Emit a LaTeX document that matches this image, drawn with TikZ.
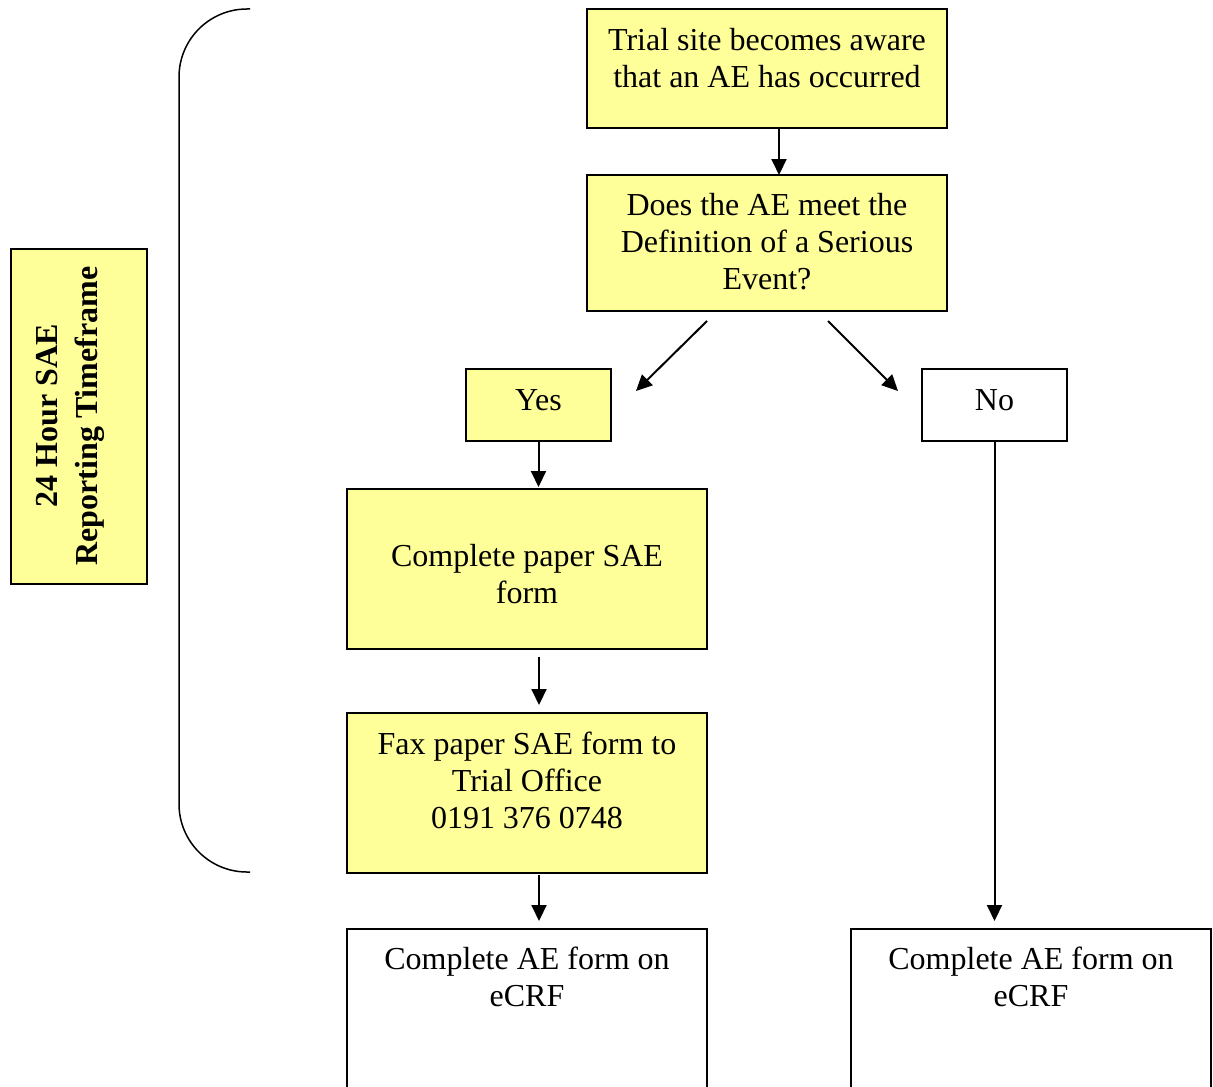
\documentclass[tikz,border=0pt]{standalone}
\usepackage{fontspec}
\setmainfont{Liberation Serif}
\usetikzlibrary{arrows.meta, positioning}
\definecolor{saeyellow}{HTML}{FFFF99}

\begin{document}
\begin{tikzpicture}[x=0.5pt,y=-0.5pt,>={Triangle[length=8pt,width=7.5pt]},line width=1pt,
		stage/.style={draw, fill=saeyellow, inner sep=0pt, outer sep=0pt, minimum width=180pt},
		answer/.style={stage, minimum width=72.5pt, minimum height=36pt},
		words/.style={align=center, inner sep=0pt, font=\fontsize{16pt}{18.5pt}\selectfont}]
		
		\useasboundingbox (0,0) rectangle (1213,1086);
		
		\node (aware) 
			[stage, minimum height=59.5pt] at (767,68.5) {};
		\node (serious) 
			[stage, minimum height=68pt, below=23.5pt of aware] {};
			
			\node (yes) 
				[answer] at (538.5,405) {};
			\node (no) 
				[answer, fill=white, right=155.5pt of yes] {};
				
			\node (paper) 
				[stage, minimum height=80pt] at (527,569) {};
			\node (fax) 
				[stage, minimum height=80pt, below=32pt of paper] {};
			\node (ecrfA) 
				[stage, fill=white, minimum height=90pt, below=28pt of fax] {};
			\node (ecrfB) 
				[stage, fill=white, minimum height=90pt] at (1031,1019) {};
				
		\node (window) 
			[stage, minimum width=68pt, minimum height=167.5pt] at (79,416.5) {};
		
		% texts
		\node (aware-t) [words] at (767,58) {Trial site becomes aware\\that an AE has occurred};
		\node (serious-t) [words] at (767,242) {Does the AE meet the\\Definition of a Serious\\Event?};
		\node (yes-t) [words] at (538.5,400) {Yes};
		\node (no-t) [words] at (994.5,400) {No};
		\node (paper-t) [words] at (527,574) {Complete paper SAE\\form};
		\node (fax-t) [words] at (527,780) {Fax paper SAE form to\\Trial Office\\0191 376 0748};
		\node (ecrfA-t) [words] at (527,977) {Complete AE form on\\eCRF};
		\node (ecrfB-t) [words] at (1031,977) {Complete AE form on\\eCRF};
		\node (window-t) 
			[words, rotate=90, font=\fontsize{16pt}{20pt}\selectfont\bfseries] at (70,416) {24 Hour SAE\\Reporting Timeframe};
		
		% bracket
		\draw [line width=0.75pt, rounded corners=34pt] (250,9) -- (179,9) -- (179,872) -- (250,872);
		
		\path [->]
		([xshift=6pt]aware.south) edge ([xshift=6pt]serious.north)
		([shift={(-30pt,-5pt)}]serious.south) edge ([shift={(12.5pt,7pt)}]yes.east)
		([shift={(30.5pt,-5pt)}]serious.south) edge ([shift={(-12pt,7pt)}]no.west)
		(yes.south) edge ([yshift=1pt]yes.south |- paper.north)
		([xshift=6pt,yshift=-4pt]paper.south) edge ([xshift=6pt,yshift=4pt]fax.north)
		([xshift=6pt,yshift=-1pt]fax.south) edge ([xshift=6pt,yshift=4pt]ecrfA.north)
		(no.south) edge ([yshift=4pt]no.south |- ecrfB.north)
		;
	\end{tikzpicture}
\end{document}
